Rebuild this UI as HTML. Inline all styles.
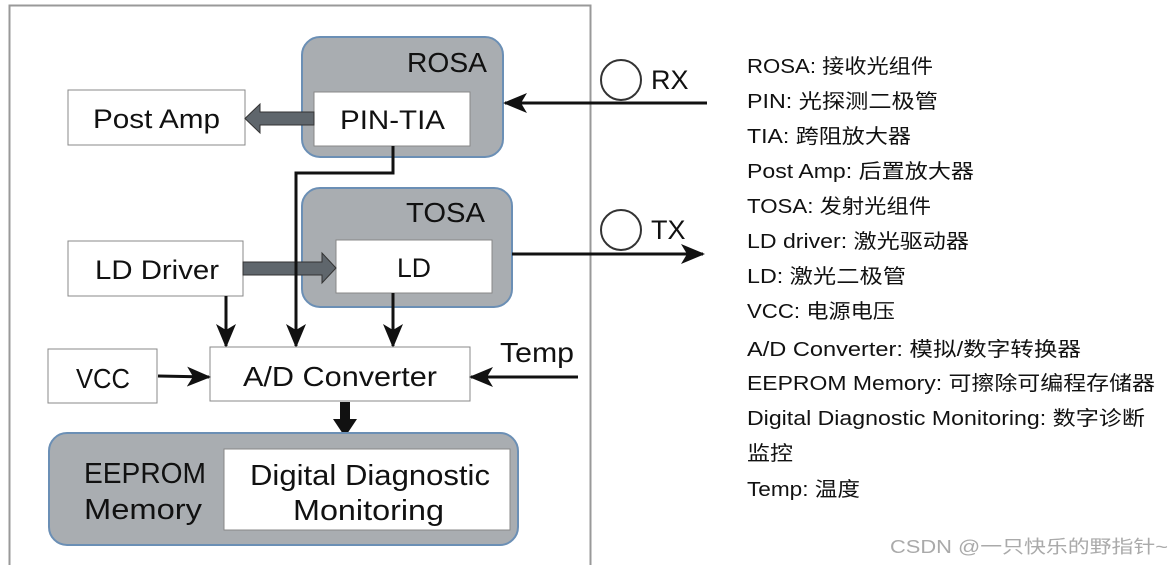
<!DOCTYPE html>
<html><head><meta charset="utf-8"><style>
html,body{margin:0;padding:0;background:#fff}
svg{display:block}
text{font-family:"Liberation Sans","Noto Sans CJK SC",sans-serif;fill:#111}
</style></head><body>
<svg width="1174" height="565" viewBox="0 0 1174 565" xmlns="http://www.w3.org/2000/svg">
<defs>
<marker id="ah2" markerWidth="24" markerHeight="20" refX="22" refY="10" orient="auto" markerUnits="userSpaceOnUse">
<path d="M0,0 L24,10 L0,20 L6,10 Z" fill="#111"/></marker>
</defs>
<rect x="9.5" y="5.5" width="581" height="570" fill="#fff" stroke="#999" stroke-width="2"/>
<!-- ROSA -->
<rect x="302" y="37" width="201" height="120" rx="18" fill="#a9adb1" stroke="#6b8fb5" stroke-width="2"/>
<text x="407" y="72" font-size="28" textLength="80" lengthAdjust="spacingAndGlyphs">ROSA</text>
<rect x="314" y="92" width="156" height="54" fill="#fff" stroke="#888"/>
<text x="340" y="129" font-size="27" textLength="105" lengthAdjust="spacingAndGlyphs">PIN-TIA</text>
<rect x="68" y="90" width="177" height="55" fill="#fff" stroke="#888"/>
<text x="93" y="128" font-size="27" textLength="127" lengthAdjust="spacingAndGlyphs">Post Amp</text>
<path d="M314,112 L260,112 L260,104 L245,118.5 L260,133 L260,125 L314,125 Z" fill="#5f666c" stroke="#333" stroke-width="1"/>
<!-- TOSA -->
<rect x="302" y="188" width="210" height="119" rx="18" fill="#a9adb1" stroke="#6b8fb5" stroke-width="2"/>
<text x="406" y="222" font-size="28" textLength="79" lengthAdjust="spacingAndGlyphs">TOSA</text>
<rect x="336" y="240" width="156" height="53" fill="#fff" stroke="#888"/>
<text x="397" y="277" font-size="27" textLength="34" lengthAdjust="spacingAndGlyphs">LD</text>
<rect x="68" y="241" width="175" height="55" fill="#fff" stroke="#888"/>
<text x="95" y="279" font-size="27" textLength="124" lengthAdjust="spacingAndGlyphs">LD Driver</text>
<path d="M243,262 L322,262 L322,253 L336,268 L322,283 L322,275 L243,275 Z" fill="#5f666c" stroke="#333" stroke-width="1"/>
<!-- lines -->
<polyline points="393,146 393,173 296,173 296,346" fill="none" stroke="#111" stroke-width="3" marker-end="url(#ah2)"/>
<line x1="226" y1="296" x2="226" y2="346" stroke="#111" stroke-width="3" marker-end="url(#ah2)"/>
<line x1="393" y1="293" x2="393" y2="346" stroke="#111" stroke-width="3" marker-end="url(#ah2)"/>
<!-- A/D -->
<rect x="210" y="347" width="260" height="54" fill="#fff" stroke="#888"/>
<text x="243" y="386" font-size="28" textLength="194" lengthAdjust="spacingAndGlyphs">A/D Converter</text>
<rect x="48" y="349" width="109" height="54" fill="#fff" stroke="#888"/>
<text x="76" y="388" font-size="28" textLength="54" lengthAdjust="spacingAndGlyphs">VCC</text>
<line x1="158" y1="376" x2="209" y2="377" stroke="#111" stroke-width="3" marker-end="url(#ah2)"/>
<text x="500" y="362" font-size="28" textLength="74" lengthAdjust="spacingAndGlyphs">Temp</text>
<line x1="578" y1="377" x2="471" y2="377" stroke="#111" stroke-width="3" marker-end="url(#ah2)"/>
<path d="M340,402 L350,402 L350,419 L357,419 L345,437 L333,419 L340,419 Z" fill="#111"/>
<!-- EEPROM -->
<rect x="49" y="433" width="469" height="112" rx="18" fill="#a9adb1" stroke="#6b8fb5" stroke-width="2"/>
<text x="84" y="483" font-size="29" textLength="122" lengthAdjust="spacingAndGlyphs">EEPROM</text>
<text x="84" y="519" font-size="29" textLength="118" lengthAdjust="spacingAndGlyphs">Memory</text>
<rect x="224" y="449" width="286" height="81" fill="#fff" stroke="#888"/>
<text x="250" y="485" font-size="29" textLength="240" lengthAdjust="spacingAndGlyphs">Digital Diagnostic</text>
<text x="293" y="520" font-size="29" textLength="151" lengthAdjust="spacingAndGlyphs">Monitoring</text>
<!-- RX/TX -->
<circle cx="621" cy="80" r="20" fill="none" stroke="#333" stroke-width="2"/>
<text x="651" y="89" font-size="27">RX</text>
<line x1="707" y1="103" x2="505" y2="103" stroke="#111" stroke-width="3" marker-end="url(#ah2)"/>
<circle cx="621" cy="230" r="20" fill="none" stroke="#333" stroke-width="2"/>
<text x="651" y="239" font-size="27">TX</text>
<line x1="512" y1="254" x2="703" y2="254" stroke="#111" stroke-width="3" marker-end="url(#ah2)"/>
<!-- legend -->
<g font-size="20" style="fill:#222">
<text x="747" y="73" textLength="186" lengthAdjust="spacingAndGlyphs">ROSA: 接收光组件</text>
<text x="747" y="108" textLength="191" lengthAdjust="spacingAndGlyphs">PIN: 光探测二极管</text>
<text x="747" y="143" textLength="164" lengthAdjust="spacingAndGlyphs">TIA: 跨阻放大器</text>
<text x="747" y="178" textLength="227" lengthAdjust="spacingAndGlyphs">Post Amp: 后置放大器</text>
<text x="747" y="213" textLength="184" lengthAdjust="spacingAndGlyphs">TOSA: 发射光组件</text>
<text x="747" y="248" textLength="222" lengthAdjust="spacingAndGlyphs">LD driver: 激光驱动器</text>
<text x="747" y="283" textLength="159" lengthAdjust="spacingAndGlyphs">LD: 激光二极管</text>
<text x="747" y="318" textLength="148" lengthAdjust="spacingAndGlyphs">VCC: 电源电压</text>
<text x="747" y="356" textLength="334" lengthAdjust="spacingAndGlyphs">A/D Converter: 模拟/数字转换器</text>
<text x="747" y="390" textLength="408" lengthAdjust="spacingAndGlyphs">EEPROM Memory: 可擦除可编程存储器</text>
<text x="747" y="425" textLength="398" lengthAdjust="spacingAndGlyphs">Digital Diagnostic Monitoring: 数字诊断</text>
<text x="747" y="460" textLength="46" lengthAdjust="spacingAndGlyphs">监控</text>
<text x="747" y="496" textLength="113" lengthAdjust="spacingAndGlyphs">Temp: 温度</text>
</g>
<text x="890" y="553" font-size="18" textLength="278" lengthAdjust="spacingAndGlyphs" style="fill:#aaa">CSDN @一只快乐的野指针~</text>
</svg>
</body></html>
